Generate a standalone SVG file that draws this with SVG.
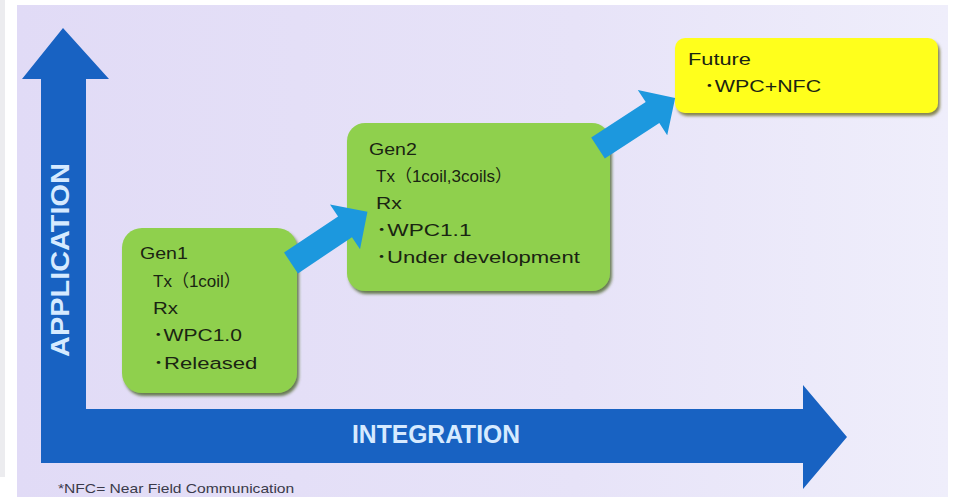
<svg xmlns="http://www.w3.org/2000/svg" width="955" height="501" viewBox="0 0 955 501">
<defs>
<linearGradient id="bg" x1="0" y1="0" x2="1" y2="0">
<stop offset="0" stop-color="#e1dbf6"/>
<stop offset="0.6" stop-color="#e7e3f8"/>
<stop offset="1" stop-color="#efeefb"/>
</linearGradient>
<filter id="shG" x="-10%" y="-10%" width="125%" height="125%">
<feDropShadow dx="2" dy="3" stdDeviation="1.5" flood-color="#3d5a1e" flood-opacity="0.75"/>
</filter>
<filter id="shY" x="-10%" y="-10%" width="125%" height="130%">
<feDropShadow dx="2" dy="3" stdDeviation="1.5" flood-color="#6a6a28" flood-opacity="0.8"/>
</filter>
<path id="conn" d="M0,-12.5 H65 V-27 L92,0 L65,27 V12.5 H0 Z"/>
</defs>
<style>
.box{font-family:"Liberation Sans","Noto Sans CJK JP",sans-serif;font-size:17px;fill:#1a2412;}
.axis{font-family:"Liberation Sans",Arial,sans-serif;font-weight:bold;fill:#d6eaff;}
.conn{fill:#1c98de;}
.green{fill:#8fd04e;filter:url(#shG);}
.yellow{fill:#ffff1e;filter:url(#shY);}
</style>
<rect x="0" y="0" width="955" height="501" fill="#ffffff"/>
<rect x="0" y="0" width="5" height="477" fill="#ececef"/>
<rect x="17" y="5" width="931" height="492" fill="url(#bg)"/>

<g id="axes">
<polygon points="63,28 109,79 86,79 86,409 803,409 803,385 847,437 803,489 803,463 41,463 41,79 22,79" fill="#1862c2"/>
<text class="axis" font-size="25" transform="translate(69,260) rotate(-90)" text-anchor="middle" textLength="194" lengthAdjust="spacingAndGlyphs">APPLICATION</text>
<text class="axis" font-size="26" x="352" y="443" textLength="168" lengthAdjust="spacingAndGlyphs">INTEGRATION</text>
</g>

<g id="gen1">
<rect class="green" x="122" y="228" width="175" height="165" rx="20"/>
<text class="box" transform="matrix(1.15 0 0 1 140 259)">Gen1</text>
<text class="box" font-size="16" x="153" y="287">Tx（1coil）</text>
<text class="box" transform="matrix(1.2 0 0 1 153 314)">Rx</text>
<text class="box" transform="matrix(1.24 0 0 1 153 341)">･WPC1.0</text>
<text class="box" transform="matrix(1.3 0 0 1 153 369)">･Released</text>
</g>

<g id="gen2">
<rect class="green" x="347" y="123" width="263" height="168" rx="18"/>
<text class="box" transform="matrix(1.15 0 0 1 369 155)">Gen2</text>
<text class="box" x="376" y="182">Tx（1coil,3coils）</text>
<text class="box" transform="matrix(1.24 0 0 1 376 209)">Rx</text>
<text class="box" transform="matrix(1.33 0 0 1 376 236)">･WPC1.1</text>
<text class="box" transform="matrix(1.3 0 0 1 376 263)">･Under development</text>
</g>

<g id="future">
<rect class="yellow" x="675" y="38" width="263" height="75" rx="10"/>
<text class="box" transform="matrix(1.28 0 0 1 688 65)">Future</text>
<text class="box" transform="matrix(1.26 0 0 1 704 92)">･WPC+NFC</text>
</g>

<g id="connectors">
<use href="#conn" class="conn" transform="translate(291,263) rotate(-33.8)"/>
<use href="#conn" class="conn" transform="translate(598,148) rotate(-33)"/>
</g>

<text transform="matrix(1.25 0 0 1 58 493)" font-family="Liberation Sans, Arial, sans-serif" font-size="12.5" fill="#3a3a4a">*NFC= Near Field Communication</text>
</svg>
